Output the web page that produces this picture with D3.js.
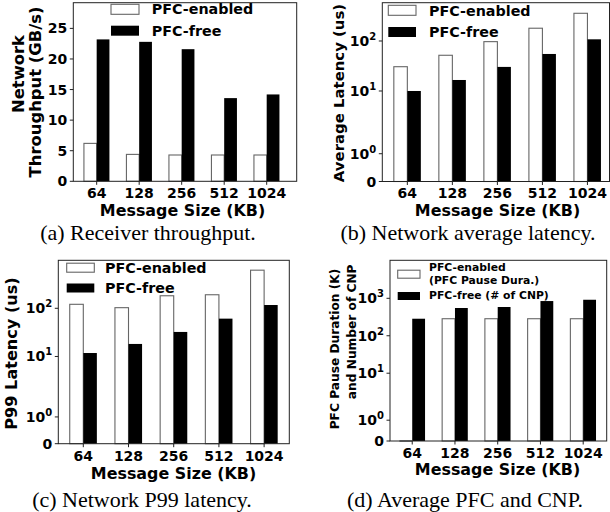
<!DOCTYPE html>
<html><head><meta charset="utf-8">
<script src="https://cdn.jsdelivr.net/npm/d3@7"></script>
<style>
body{margin:0;background:#fff;}
svg{display:block;}
text{font-family:"DejaVu Sans",sans-serif;font-weight:bold;fill:#000;}
.cap{font-family:"Liberation Serif","Times New Roman",serif;font-weight:normal;}
</style></head>
<body>
<svg id="c" width="610" height="512"></svg>
<script>
// ---- data ----
const sizes = ["64", "128", "256", "512", "1024"];
const seriesNames = ["PFC-enabled", "PFC-free"];
const thrEnabled = [6.2, 4.4, 4.3, 4.3, 4.3];
const thrFree = [23.2, 22.8, 21.6, 13.6, 14.2];
const avgEnabled = [30.6, 51.8, 97, 180, 358];
const avgFree = [10.0, 16.6, 30.3, 55, 108];
const p99Enabled = [121, 103, 182, 191, 618];
const p99Free = [11.8, 18.2, 32.3, 61, 117];
const pfcPause = [0, 285, 285, 285, 285];
const cnpCount = [285, 551, 586, 845, 915];
const linTicks = [0, 5, 10, 15, 20, 25];
const logTicks3 = [0, 1, 10, 100];
const logTicks4 = [0, 1, 10, 100, 1000];
const captions = ["(a) Receiver throughput.", "(b) Network average latency.", "(c) Network P99 latency.", "(d) Average PFC and CNP."];

const svg = d3.select("#c");
const LS = 1 / (1 - 1 / 10); // matplotlib symlog linscale adj, linthresh 2
const LT = 2;
function T(v) { return v <= LT ? v * LS : LT * (LS + Math.log10(v / LT)); }

function panel(o) {
  const g = svg.append("g");
  const x = d3.scaleLinear().domain(o.xdom).range([o.left, o.right]);
  let yv, ys;
  if (o.log) {
    ys = d3.scaleLinear().domain([T(0), T(o.ymax)]).range([o.bottom, o.top]);
    yv = v => ys(T(v));
  } else {
    ys = d3.scaleLinear().domain([0, o.ymax]).range([o.bottom, o.top]);
    yv = v => ys(v);
  }
  const bw = 0.3;
  const w = x(bw) - x(0);
  sizes.forEach((s, i) => {
    const a = o.a[i], b = o.b[i];
    g.append("rect").attr("x", x(i - bw)).attr("width", w)
      .attr("y", yv(a)).attr("height", Math.max(0, yv(0) - yv(a)))
      .attr("fill", "#fff").attr("stroke", "#666").attr("stroke-width", 1.1);
    g.append("rect").attr("x", x(i)).attr("width", w)
      .attr("y", yv(b)).attr("height", yv(0) - yv(b))
      .attr("fill", "#000");
  });
  if (o.zeroLine) {
    g.append("line").attr("x1", x(-bw)).attr("x2", x(0)).attr("y1", o.bottom).attr("y2", o.bottom)
      .attr("stroke", "#666").attr("stroke-width", 1.5);
  }
  g.append("rect").attr("x", o.left).attr("y", o.top).attr("width", o.right - o.left).attr("height", o.bottom - o.top)
    .attr("fill", "none").attr("stroke", "#222").attr("stroke-width", 1);
  o.yticks.forEach(t => {
    const yy = yv(t);
    g.append("line").attr("x1", o.left - 3.5).attr("x2", o.left).attr("y1", yy).attr("y2", yy).attr("stroke", "#222");
    const tx = g.append("text").attr("x", o.left - 6).attr("y", yy + 5).attr("text-anchor", "end").style("font-size", "14px");
    if (o.log && t > 0) {
      tx.append("tspan").text("10");
      tx.append("tspan").attr("dy", -6).style("font-size", "10px").text(String(Math.round(Math.log10(t))));
    } else tx.text(String(t));
  });
  sizes.forEach((s, i) => {
    g.append("line").attr("x1", x(i)).attr("x2", x(i)).attr("y1", o.bottom).attr("y2", o.bottom + 3.5).attr("stroke", "#222");
    g.append("text").attr("x", x(i)).attr("y", o.xtickY).attr("text-anchor", "middle").style("font-size", "14px").text(s);
  });
  g.append("text").attr("x", o.xtX).attr("y", o.xtitleY).attr("text-anchor", "middle")
    .style("font-size", "15.9px").text("Message Size (KB)");
  o.ylabels.forEach(l => {
    g.append("text").attr("transform", `translate(${l.x},${l.y}) rotate(-90)`).attr("text-anchor", "middle")
      .attr("dy", "0.35em").style("font-size", l.fs + "px").text(l.t);
  });
  const L = o.legend;
  g.append("rect").attr("x", L.bx).attr("y", L.y1 - L.bh / 2).attr("width", L.bw).attr("height", L.bh)
    .attr("fill", "#fff").attr("stroke", "#666").attr("stroke-width", 1.1);
  g.append("rect").attr("x", L.bx).attr("y", L.y2 - L.bh / 2).attr("width", L.bw).attr("height", L.bh).attr("fill", "#000");
  L.texts.forEach(tt => {
    g.append("text").attr("x", L.tx).attr("y", tt.y).attr("dy", "0.36em").style("font-size", L.fs + "px").text(tt.t);
  });
  svg.append("text").attr("class", "cap").attr("x", o.capX).attr("y", o.capY).attr("text-anchor", "middle")
    .style("font-size", "22px").text(o.caption);
}

panel({
  left: 73.3, right: 296.7, top: 2.7, bottom: 181.3, xdom: [-0.55, 4.706], ymax: 29.2, log: false,
  a: thrEnabled, b: thrFree, yticks: linTicks, xtickY: 198, xtitleY: 215.5, xtX: 182.5,
  ylabels: [{ t: "Network", x: 18, y: 74, fs: 16.4 }, { t: "Throughput (GB/s)", x: 35, y: 92, fs: 16.4 }],
  legend: { bx: 111, bw: 28, bh: 10, y1: 9.3, y2: 30.7, tx: 151.7, fs: 14.3,
    texts: [{ t: seriesNames[0], y: 9.3 }, { t: seriesNames[1], y: 30.7 }] },
  caption: captions[0], capX: 148, capY: 240
});
panel({
  left: 382.3, right: 609.5, top: 2.7, bottom: 181.5, xdom: [-0.556, 4.49], ymax: 583, log: true,
  a: avgEnabled, b: avgFree, yticks: logTicks3, xtickY: 198, xtitleY: 215.5, xtX: 497.5,
  ylabels: [{ t: "Average Latency (us)", x: 338.3, y: 93, fs: 14.9 }],
  legend: { bx: 388.3, bw: 27.7, bh: 10, y1: 10.3, y2: 32, tx: 429, fs: 14.3,
    texts: [{ t: seriesNames[0], y: 11 }, { t: seriesNames[1], y: 31.7 }] },
  caption: captions[1], capX: 468, capY: 240
});
panel({
  left: 58.3, right: 289.3, top: 260.3, bottom: 443.7, xdom: [-0.553, 4.557], ymax: 991, log: true,
  a: p99Enabled, b: p99Free, yticks: logTicks3, xtickY: 460.5, xtitleY: 478.5, xtX: 173.5,
  ylabels: [{ t: "P99 Latency (us)", x: 11.7, y: 353.5, fs: 16.1 }],
  legend: { bx: 66.7, bw: 27.6, bh: 9, y1: 267.7, y2: 288, tx: 105, fs: 14.3,
    texts: [{ t: seriesNames[0], y: 267.7 }, { t: seriesNames[1], y: 287.7 }] },
  caption: captions[2], capX: 142, capY: 506.5
});
panel({
  left: 390, right: 606.7, top: 260.3, bottom: 441, xdom: [-0.52, 4.55], ymax: 10350, log: true, zeroLine: true,
  a: pfcPause, b: cnpCount, yticks: logTicks4, xtickY: 458, xtitleY: 475, xtX: 497.5,
  ylabels: [{ t: "PFC Pause Duration (K)", x: 335, y: 349, fs: 12.2 }, { t: "and Number of CNP", x: 351.7, y: 331.8, fs: 12.2 }],
  legend: { bx: 397.7, bw: 22.3, bh: 8, y1: 274.2, y2: 296, tx: 429, fs: 10.8,
    texts: [{ t: "PFC-enabled", y: 267.5 }, { t: "(PFC Pause Dura.)", y: 280.3 }, { t: "PFC-free (# of CNP)", y: 295.3 }] },
  caption: captions[3], capX: 465, capY: 506.5
});
</script>
</body></html>
